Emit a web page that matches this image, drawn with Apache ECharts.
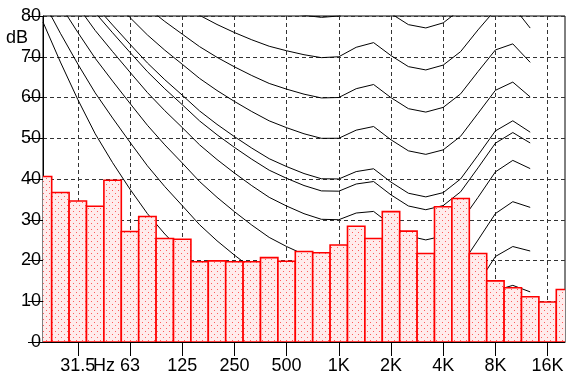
<!DOCTYPE html>
<html><head><meta charset="utf-8">
<script src="https://cdn.jsdelivr.net/npm/echarts@6/dist/echarts.min.js"></script>
<style>html,body{margin:0;padding:0;background:#fff}#c{width:567px;height:379px}</style>
</head><body><div id="c"></div>
<script>
// 1/3-octave band centres (x categories)
const bands = ['20','25','31.5','40','50','63','80','100','125','160','200','250','315','400','500','630','800','1K','1.25K','1.6K','2K','2.5K','3.15K','4K','5K','6.3K','8K','10K','12.5K','16K','20K'];
// measured level per band (dB)
const levels = [40.6,36.7,34.6,33.3,39.7,27.1,30.8,25.4,25.2,19.7,19.9,19.7,19.7,20.7,19.8,22.2,21.9,23.8,28.4,25.4,32.0,27.2,21.7,33.2,35.2,21.7,15.0,13.3,11.1,9.8,12.9];
// x-axis tick labels (octave bands) and unit label
const octaveLabels = ['31.5','63','125','250','500','1K','2K','4K','8K','16K'];
const unitLabel = 'Hz';
const unitBetween = ['40','50'];
// y-axis
const yTicks = [0,10,20,30,40,50,60,70,80];
const yUnit = 'dB';
// equal-loudness contours, values at bands 20 Hz .. 12.5 kHz
const contourThreshold = [78.5,68.7,59.5,51.1,44.0,37.5,31.5,26.5,22.1,17.9,14.4,11.4,8.6,6.2,4.4,3.0,2.2,2.4,3.5,1.7,-1.3,-4.2,-6.0,-5.4,-1.5,6.0,12.6,13.9,12.3];
const contour10 = [83.75,75.76,68.21,61.14,54.96,49.01,43.24,38.13,33.48,28.77,24.84,21.33,18.05,15.14,12.98,11.18,9.99,10.00,11.26,10.43,7.27,4.45,3.04,3.80,7.46,14.35,20.98,23.43,22.33];
const contour20 = [89.58,82.65,75.98,69.62,64.02,58.55,53.19,48.38,43.94,39.37,35.51,31.99,28.69,25.67,23.43,21.48,20.10,20.01,21.46,21.40,18.15,15.38,14.26,15.14,18.63,25.02,31.52,34.43,33.04];
const contour30 = [94.85,88.52,82.36,76.45,71.26,66.20,61.22,56.76,52.64,48.38,44.78,41.47,38.36,35.50,33.37,31.49,30.11,30.01,31.65,32.04,28.76,26.03,25.05,26.02,29.43,35.48,41.75,44.57,42.55];
const contour37 = [98.37,92.35,86.46,80.82,75.88,71.07,66.35,62.14,58.25,54.25,50.86,47.76,44.85,42.16,40.17,38.40,37.08,37.01,38.77,39.38,36.10,33.38,32.46,33.48,36.85,42.73,48.79,51.40,48.84];
const contour40 = [99.85,93.94,88.17,82.63,77.78,73.08,68.48,64.37,60.59,56.70,53.41,50.40,47.58,44.98,43.05,41.34,40.06,40.01,41.82,42.51,39.23,36.51,35.61,36.65,40.01,45.83,51.80,54.28,51.49];
const contour50 = [104.72,99.14,93.70,88.49,83.96,79.61,75.36,71.61,68.17,64.68,61.72,59.04,56.55,54.27,52.59,51.10,49.98,50.00,51.99,52.88,49.62,46.91,46.05,47.15,50.48,56.11,61.76,63.78,60.14];
const contour60 = [109.51,104.23,99.08,94.18,89.96,85.94,82.05,78.66,75.56,72.48,69.86,67.53,65.39,63.45,62.05,60.82,59.89,60.00,62.16,63.19,59.96,57.26,56.42,57.57,60.89,66.36,71.67,73.16,68.63];
const contour70 = [114.26,109.25,104.38,99.78,95.87,92.18,88.64,85.60,82.86,80.17,77.92,75.94,74.16,72.58,71.47,70.50,69.78,70.00,72.32,73.47,70.28,67.58,66.76,67.95,71.26,76.59,81.54,82.46,77.04];
const contour80 = [118.99,114.23,109.65,105.34,101.72,98.36,95.17,92.48,90.09,87.82,85.92,84.31,82.89,81.68,80.86,80.17,79.67,80.00,82.48,83.74,80.59,77.88,77.07,78.31,81.62,86.81,91.41,91.74,85.41];
const contours = [contourThreshold, contour10, contour20, contour30, contour37, contour40, contour50, contour60, contour70, contour80];

const tickIdx = octaveLabels.map(l => bands.indexOf(l));
const unitPos = (bands.indexOf(unitBetween[0]) + bands.indexOf(unitBetween[1])) / 2;
const labelMap = {};
octaveLabels.forEach(l => { labelMap[bands.indexOf(l)] = l; });

// dotted fill pattern
const pc = document.createElement('canvas');
pc.width = 6; pc.height = 6;
const g = pc.getContext('2d');
g.fillStyle = '#ffecec'; g.fillRect(0,0,6,6);
g.fillStyle = '#ff5c5c'; g.fillRect(1,1,1,1); g.fillRect(4,4,1,1);
const fillPattern = {image:pc, repeat:'repeat'};

const FONT = 'Liberation Sans';
const chart = echarts.init(document.getElementById('c'), null, {renderer:'canvas'});
const series = contours.map(c => ({
  type:'line', data:c.map((v,i)=>[i,v]), symbol:'none', silent:true, z:1,
  lineStyle:{color:'#000', width:1}, clip:true, animation:false
}));
series.push({
  type:'custom', z:3, clip:true, animation:false,
  data:levels.map((v,i)=>[i,v]),
  encode:{x:0, y:1},
  renderItem:(params, api) => {
    const i = api.value(0), v = api.value(1);
    const p0 = api.coord([i - 0.5, v]);
    const p1 = api.coord([i + 0.5, 0]);
    return {type:'rect',
      shape:{x:p0[0], y:p0[1], width:p1[0]-p0[0], height:p1[1]-p0[1]},
      style:{fill:fillPattern, stroke:'#ff0000', lineWidth:1.6}};
  }
});
chart.setOption({
  animation:false,
  grid:{left:43, right:2, top:16, bottom:37, containLabel:false, outerBoundsMode:'none',
        show:true, borderColor:'#000', borderWidth:1},
  xAxis:{type:'value', min:0, max:bands.length-1,
    axisLine:{show:true, lineStyle:{color:'#000', width:1}},
    axisTick:{show:true, customValues:tickIdx, length:14, lineStyle:{color:'#000'}},
    axisLabel:{customValues:tickIdx, formatter:v => labelMap[v] ?? '', fontSize:18, color:'#000', fontFamily:FONT, margin:15},
    splitLine:{show:true, lineStyle:{type:[4,3], color:'#333', width:1}}
  },
  yAxis:{type:'value', min:yTicks[0], max:yTicks[yTicks.length-1], interval:10,
    axisLine:{show:true, lineStyle:{color:'#000', width:1}},
    axisTick:{show:true, length:15, lineStyle:{color:'#000'}},
    axisLabel:{fontSize:18, color:'#000', fontFamily:FONT, margin:2},
    splitLine:{show:true, lineStyle:{type:[4,3], color:'#333', width:1}}
  },
  series
});
const hzX = chart.convertToPixel({xAxisIndex:0}, unitPos);
const baseY = chart.convertToPixel({yAxisIndex:0}, 0);
chart.setOption({graphic:[
  {type:'text', x:28, y:38, z:10, style:{text:yUnit, align:'right', verticalAlign:'middle', font:'18px "Liberation Sans"', fill:'#000'}},
  {type:'text', x:hzX, y:baseY + 15, z:10, style:{text:unitLabel, align:'center', verticalAlign:'top', font:'18px "Liberation Sans"', fill:'#000'}}
]});
</script></body></html>
